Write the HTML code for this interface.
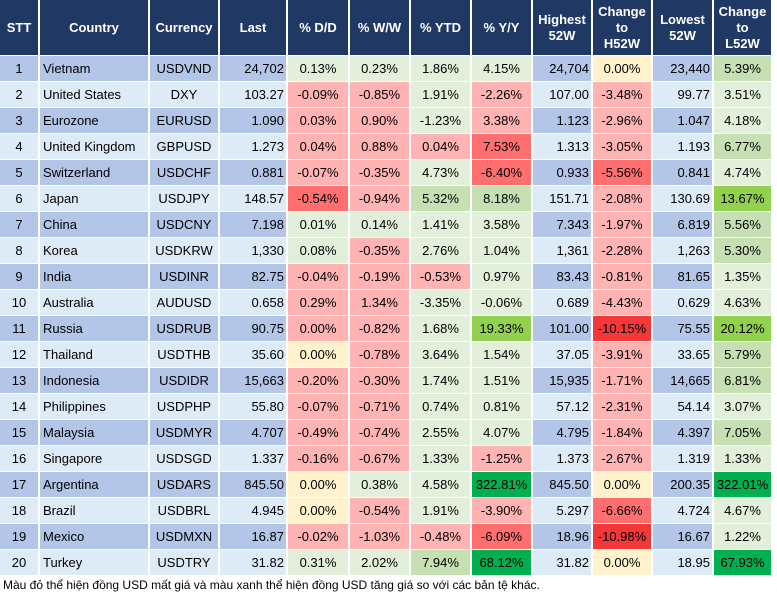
<!DOCTYPE html>
<html><head><meta charset="utf-8"><style>
body{margin:0;width:777px;height:602px;background:#fff;font-family:"Liberation Sans",Arial,sans-serif;position:relative;overflow:hidden}
.c{position:absolute;box-sizing:border-box;font-size:13px;color:#000;display:flex;align-items:center;white-space:nowrap}
.h{background:#203864;color:#fff;font-weight:bold;justify-content:center;text-align:center;line-height:16px}
.cap{position:absolute;left:3px;top:578px;font-size:12px;color:#000;font-family:"Liberation Sans",Arial,sans-serif}
</style></head><body>
<div class="cap">Màu đỏ thể hiện đồng USD mất giá và màu xanh thể hiện đồng USD tăng giá so với các bản tệ khác.</div>
<script>
const headers=["STT","Country","Currency","Last","% D/D","% W/W","% YTD","% Y/Y","Highest<br>52W","Change<br>to<br>H52W","Lowest<br>52W","Change<br>to<br>L52W"];
const rows=[
["1","Vietnam","USDVND","24,702","0.13%","0.23%","1.86%","4.15%","24,704","0.00%","23,440","5.39%"],
["2","United States","DXY","103.27","-0.09%","-0.85%","1.91%","-2.26%","107.00","-3.48%","99.77","3.51%"],
["3","Eurozone","EURUSD","1.090","0.03%","0.90%","-1.23%","3.38%","1.123","-2.96%","1.047","4.18%"],
["4","United Kingdom","GBPUSD","1.273","0.04%","0.88%","0.04%","7.53%","1.313","-3.05%","1.193","6.77%"],
["5","Switzerland","USDCHF","0.881","-0.07%","-0.35%","4.73%","-6.40%","0.933","-5.56%","0.841","4.74%"],
["6","Japan","USDJPY","148.57","-0.54%","-0.94%","5.32%","8.18%","151.71","-2.08%","130.69","13.67%"],
["7","China","USDCNY","7.198","0.01%","0.14%","1.41%","3.58%","7.343","-1.97%","6.819","5.56%"],
["8","Korea","USDKRW","1,330","0.08%","-0.35%","2.76%","1.04%","1,361","-2.28%","1,263","5.30%"],
["9","India","USDINR","82.75","-0.04%","-0.19%","-0.53%","0.97%","83.43","-0.81%","81.65","1.35%"],
["10","Australia","AUDUSD","0.658","0.29%","1.34%","-3.35%","-0.06%","0.689","-4.43%","0.629","4.63%"],
["11","Russia","USDRUB","90.75","0.00%","-0.82%","1.68%","19.33%","101.00","-10.15%","75.55","20.12%"],
["12","Thailand","USDTHB","35.60","0.00%","-0.78%","3.64%","1.54%","37.05","-3.91%","33.65","5.79%"],
["13","Indonesia","USDIDR","15,663","-0.20%","-0.30%","1.74%","1.51%","15,935","-1.71%","14,665","6.81%"],
["14","Philippines","USDPHP","55.80","-0.07%","-0.71%","0.74%","0.81%","57.12","-2.31%","54.14","3.07%"],
["15","Malaysia","USDMYR","4.707","-0.49%","-0.74%","2.55%","4.07%","4.795","-1.84%","4.397","7.05%"],
["16","Singapore","USDSGD","1.337","-0.16%","-0.67%","1.33%","-1.25%","1.373","-2.67%","1.319","1.33%"],
["17","Argentina","USDARS","845.50","0.00%","0.38%","4.58%","322.81%","845.50","0.00%","200.35","322.01%"],
["18","Brazil","USDBRL","4.945","0.00%","-0.54%","1.91%","-3.90%","5.297","-6.66%","4.724","4.67%"],
["19","Mexico","USDMXN","16.87","-0.02%","-1.03%","-0.48%","-6.09%","18.96","-10.98%","16.67","1.22%"],
["20","Turkey","USDTRY","31.82","0.31%","2.02%","7.94%","68.12%","31.82","0.00%","18.95","67.93%"]];
const codes=["gggggyG","rrgrrg","rrgrrg","rrrRrG","rrgRRg","RrGGrL","ggggrG","grggrG","rrrgrg","rrggrg","rrgLXL","yrggrG","rrggrG","rrggrg","rrggrG","rrgrrg","yggSyS","yrgrRg","rrrRXg","ggGSyS"];
codes[0]="ggggyG";
const pal={g:"#E2EFDA",G:"#C6E0B4",L:"#92D050",S:"#00B050",r:"#FFB3B3",R:"#FF6F6F",X:"#F23838",y:"#FFF2CC"};
const widths=[40,110,70,68,62,61,61,61,60,60,61,59];
const align=["center","flex-start","center","flex-end","center","center","center","center","flex-end","center","flex-end","center"];
const pctCols=[4,5,6,7,9,11];
const names=["stt","country","currency","last","pct-dd","pct-ww","pct-ytd","pct-yy","highest-52w","change-h52w","lowest-52w","change-l52w"];
let xs=[0];widths.forEach(w=>xs.push(xs[xs.length-1]+w));
headers.forEach((h,j)=>{
 const d=document.createElement('div');d.className='c h';
 
 
 d.style.cssText=`left:${xs[j]}px;top:0;width:${widths[j]-2}px;height:55px`;
 d.innerHTML=h;document.body.appendChild(d);
});
rows.forEach((r,i)=>{
 const top=56+26*i;const base=i%2===0?"#B4C6E7":"#DDEBF7";
 r.forEach((v,j)=>{
  const d=document.createElement('div');d.className='c';
  
  
  let bg=base;const k=pctCols.indexOf(j);
  if(k>=0)bg=pal[codes[i][k]];
  d.style.cssText=`left:${xs[j]}px;top:${top}px;width:${widths[j]-2}px;height:25px;background:${bg};justify-content:${align[j]};padding:0 ${j===1?'0 0 3px':'2px'}`;
  if(j===1)d.style.padding='0 0 0 3px';
  d.textContent=v;document.body.appendChild(d);
 });
});
</script>
</body></html>
